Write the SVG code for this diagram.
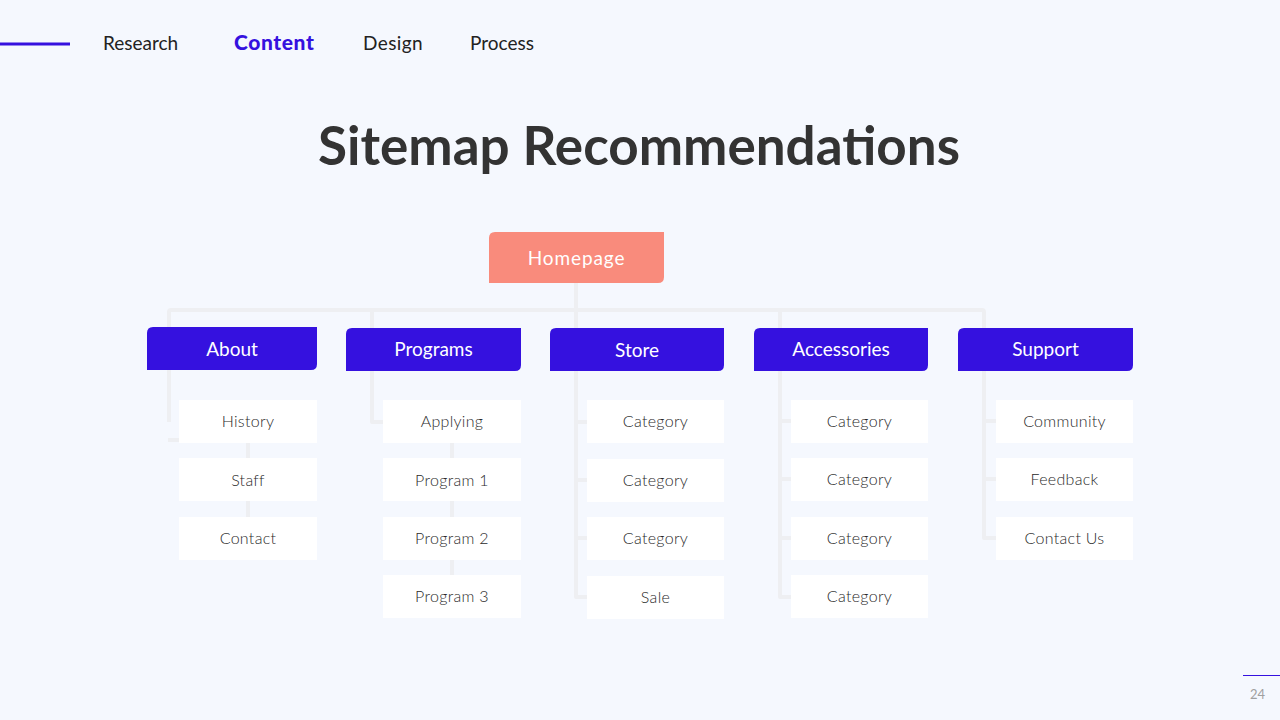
<svg xmlns="http://www.w3.org/2000/svg" width="1280" height="720" viewBox="0 0 1280 720">
  <defs>
    <style>
      .bg { fill: #f5f8fe; }
      .nav { font-family: Lato, "Liberation Sans", sans-serif; font-size: 19px; fill: #222222; }
      .nav-active { font-family: Lato, "Liberation Sans", sans-serif; font-size: 21px; font-weight: 900; fill: #3511df; letter-spacing: 0.6px; }
      .title { font-family: Lato, "Liberation Sans", sans-serif; font-size: 53px; font-weight: 700; fill: #333333; }
      .hdr { fill: #3511df; }
      .home { fill: #f98b7c; }
      .hdr-t { font-family: Lato, "Liberation Sans", sans-serif; font-size: 19px; fill: #ffffff; text-anchor: middle; }
      .child { fill: #ffffff; }
      .child-t { font-family: Lato, "Liberation Sans", sans-serif; font-size: 16px; font-weight: 300; fill: #2a2a2a; text-anchor: middle; letter-spacing: 0.3px; }
      .conn { fill: none; stroke: #eeeff2; stroke-width: 4; stroke-linejoin: round; }
      .pg { font-family: Lato, "Liberation Sans", sans-serif; font-size: 13px; fill: #a0a0a0; }
    </style>
  </defs>

  <rect class="bg" x="0" y="0" width="1280" height="720"/>

  <g id="nav">
    <line x1="0" y1="44" x2="70" y2="44" stroke="#3511df" stroke-width="3"/>
    <text class="nav" x="103" y="50">Research</text>
    <text class="nav-active" x="234" y="50">Content</text>
    <text class="nav" x="363" y="50" letter-spacing="0.4">Design</text>
    <text class="nav" x="470" y="50">Process</text>
  </g>

  <g id="title">
    <text class="title" x="639" y="165" text-anchor="middle">Sitemap Recommendations</text>
  </g>

  <g id="connectors">
    <path class="conn" d="M576 283 V328"/>
    <path class="conn" d="M169 330 V312 Q169 310 171 310 H982 Q984 310 984 312 V330"/>
    <path class="conn" d="M372 310 V330"/>
    <path class="conn" d="M780 310 V330"/>
    <!-- About -->
    <path class="conn" d="M169 370 V422"/>
    <path class="conn" d="M168 440 H180"/>
    <path class="conn" d="M248 443 V458 M248 501 V517"/>
    <!-- Programs -->
    <path class="conn" d="M372 371 V422 H384"/>
    <path class="conn" d="M452 443 V458 M452 501 V517 M452 560 V575"/>
    <!-- Store -->
    <path class="conn" d="M576 371 V597 H588 M576 422 H588 M576 480 H588 M576 538 H588"/>
    <!-- Accessories -->
    <path class="conn" d="M780 371 V597 H792 M780 421 H792 M780 479 H792 M780 538 H792"/>
    <!-- Support -->
    <path class="conn" d="M984 371 V538 H997 M984 421 H997 M984 479 H997"/>
  </g>

  <g id="homepage">
    <path class="home" d="M495 232 H664 V277 Q664 283 658 283 H489 V238 Q489 232 495 232 Z"/>
    <text class="hdr-t" x="576.5" y="265" font-size="23" letter-spacing="0.9">Homepage</text>
  </g>

  <g id="about">
    <path class="hdr" d="M153 327 H317 V364 Q317 370 311 370 H147 V333 Q147 327 153 327 Z"/>
    <text class="hdr-t" x="232" y="356">About</text>
  </g>
  <g id="programs">
    <path class="hdr" d="M352 328 H521 V365 Q521 371 515 371 H346 V334 Q346 328 352 328 Z"/>
    <text class="hdr-t" x="433.5" y="356">Programs</text>
  </g>
  <g id="store">
    <path class="hdr" d="M556 328 H724 V365 Q724 371 718 371 H550 V334 Q550 328 556 328 Z"/>
    <text class="hdr-t" x="637" y="357">Store</text>
  </g>
  <g id="accessories">
    <path class="hdr" d="M760 328 H928 V365 Q928 371 922 371 H754 V334 Q754 328 760 328 Z"/>
    <text class="hdr-t" x="841" y="356">Accessories</text>
  </g>
  <g id="support">
    <path class="hdr" d="M964 328 H1133 V365 Q1133 371 1127 371 H958 V334 Q958 328 964 328 Z"/>
    <text class="hdr-t" x="1045.5" y="356">Support</text>
  </g>

  <g id="history"><rect class="child" x="179" y="400" width="138" height="43"/><text class="child-t" x="248" y="427">History</text></g>
  <g id="staff"><rect class="child" x="179" y="458" width="138" height="43"/><text class="child-t" x="248" y="486">Staff</text></g>
  <g id="contact"><rect class="child" x="179" y="517" width="138" height="43"/><text class="child-t" x="248" y="544">Contact</text></g>

  <g id="applying"><rect class="child" x="383" y="400" width="138" height="43"/><text class="child-t" x="452" y="427">Applying</text></g>
  <g id="program1"><rect class="child" x="383" y="458" width="138" height="43"/><text class="child-t" x="452" y="486">Program 1</text></g>
  <g id="program2"><rect class="child" x="383" y="517" width="138" height="43"/><text class="child-t" x="452" y="544">Program 2</text></g>
  <g id="program3"><rect class="child" x="383" y="575" width="138" height="43"/><text class="child-t" x="452" y="602">Program 3</text></g>

  <g id="store-cat1"><rect class="child" x="587" y="400" width="137" height="43"/><text class="child-t" x="655.5" y="427">Category</text></g>
  <g id="store-cat2"><rect class="child" x="587" y="459" width="137" height="43"/><text class="child-t" x="655.5" y="486">Category</text></g>
  <g id="store-cat3"><rect class="child" x="587" y="517" width="137" height="43"/><text class="child-t" x="655.5" y="544">Category</text></g>
  <g id="store-sale"><rect class="child" x="587" y="576" width="137" height="43"/><text class="child-t" x="655.5" y="603">Sale</text></g>

  <g id="acc-cat1"><rect class="child" x="791" y="400" width="137" height="43"/><text class="child-t" x="859.5" y="427">Category</text></g>
  <g id="acc-cat2"><rect class="child" x="791" y="458" width="137" height="43"/><text class="child-t" x="859.5" y="485">Category</text></g>
  <g id="acc-cat3"><rect class="child" x="791" y="517" width="137" height="43"/><text class="child-t" x="859.5" y="544">Category</text></g>
  <g id="acc-cat4"><rect class="child" x="791" y="575" width="137" height="43"/><text class="child-t" x="859.5" y="602">Category</text></g>

  <g id="community"><rect class="child" x="996" y="400" width="137" height="43"/><text class="child-t" x="1064.5" y="427">Community</text></g>
  <g id="feedback"><rect class="child" x="996" y="458" width="137" height="43"/><text class="child-t" x="1064.5" y="485">Feedback</text></g>
  <g id="contact-us"><rect class="child" x="996" y="517" width="137" height="43"/><text class="child-t" x="1064.5" y="544">Contact Us</text></g>

  <g id="page-number">
    <line x1="1243" y1="675.5" x2="1280" y2="675.5" stroke="#3511df" stroke-width="1"/>
    <text class="pg" x="1250" y="699">24</text>
  </g>
</svg>
